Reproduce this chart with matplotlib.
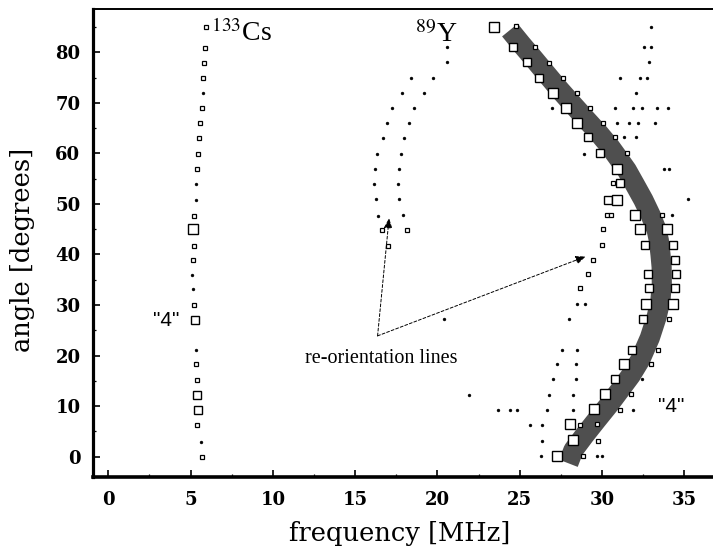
import matplotlib
matplotlib.use("Agg")
import matplotlib.pyplot as plt
import numpy as np

# ---------------- data ----------------
# 133Cs resonance positions: frequency [MHz], angle [deg], intensity class (0 dot .. 3 large)
cs_freq = [5.95, 5.88, 5.82, 5.78, 5.74, 5.67, 5.57, 5.51, 5.47, 5.37, 5.33, 5.33, 5.23, 5.17,
           5.23, 5.17, 5.11, 5.17, 5.21, 5.27, 5.31, 5.33, 5.37, 5.41, 5.47, 5.41, 5.61, 5.67]
cs_angle = [85.0, 80.9, 77.9, 75.0, 71.9, 69.0, 66.0, 63.0, 59.8, 56.9, 53.9, 50.8, 47.7, 45.0,
            41.7, 38.9, 35.9, 33.2, 30.1, 27.0, 21.1, 18.3, 15.2, 12.2, 9.2, 6.2, 3.0, 0.0]
cs_int = [1, 1, 1, 1, 0, 1, 1, 1, 1, 1, 0, 0, 1, 3,
          1, 1, 0, 0, 1, 2, 0, 1, 1, 2, 2, 1, 0, 1]

# 89Y resonance positions
y_freq = [20.56, 20.60, 18.39, 19.71, 17.83, 19.18, 17.26, 18.58, 16.92, 18.29, 16.67, 17.99,
          16.35, 17.76, 16.21, 17.66, 16.17, 17.62, 16.25, 17.68, 16.41, 17.93, 16.65, 18.13,
          17.01, 20.41, 21.94]
y_angle = [81.1, 78.0, 75.0, 75.0, 71.9, 71.9, 69.0, 69.0, 66.0, 66.0, 63.1, 63.1,
           59.9, 59.9, 56.9, 56.9, 53.9, 53.9, 50.9, 50.9, 47.7, 47.8, 44.8, 44.8,
           41.7, 27.2, 12.2]
y_int = [0, 0, 0, 0, 0, 0, 0, 0, 0, 0, 0, 0,
         0, 0, 0, 0, 0, 0, 0, 0, 0, 0, 1, 1,
         1, 0, 0]

# broad central line (band) centre
band_freq = [24.4, 25.1, 25.83, 26.65, 27.45, 28.27, 29.07, 29.8, 30.49, 31.0, 31.5, 32.0,
             32.51, 32.95, 33.32, 33.45, 33.55, 33.62, 33.63, 33.55, 33.32, 32.9, 32.31,
             31.75, 31.09, 30.4, 29.68, 28.95, 28.26, 27.95]
band_angle = [84.4, 81.6, 78.8, 75.6, 72.5, 69.5, 66.6, 64.0, 61.3, 59.0, 56.7, 53.8,
              50.8, 47.8, 44.8, 42.8, 40.0, 37.5, 34.3, 31.0, 27.7, 23.5, 19.1,
              16.1, 13.2, 10.2, 7.3, 4.3, 1.3, -1.3]

# satellite resonances around the band
sat_freq = [23.44, 24.77, 24.61, 25.93, 25.42, 26.80, 26.19, 27.61, 27.04, 28.46, 27.81, 29.27,
            28.50, 30.08, 29.17, 30.79, 29.88, 31.50, 30.89, 30.69, 31.09, 30.38, 30.89, 30.28,
            30.53, 32.00, 33.63, 30.04, 32.31, 33.97, 29.98, 32.61, 34.30,
            29.47, 29.17, 28.66, 34.44, 32.81, 34.50, 32.87, 34.44, 32.67, 34.33, 32.47, 34.09,
            31.80, 33.42, 31.34, 32.96, 30.79, 30.18, 31.74, 29.51, 31.09, 28.05, 29.71, 28.66,
            28.26, 29.77, 27.28, 28.83,
            32.96, 32.55, 32.96, 32.86, 31.09, 32.31, 32.75, 32.07, 26.96, 30.79, 31.86, 32.45,
            33.32, 34.03, 30.89, 31.64, 32.20, 33.22, 31.35, 32.04, 28.92, 33.79, 34.09, 35.24,
            34.23, 28.46, 28.97, 28.01, 27.55, 28.50, 27.25, 28.42, 27.00, 28.40, 26.78, 28.26,
            23.70, 24.41, 24.85, 26.64, 28.26, 25.62, 26.37, 26.37, 26.27, 29.68, 29.98, 31.90,
            32.41]
sat_angle = [85.0, 85.2, 81.1, 81.1, 78.1, 77.9, 75.0, 75.0, 71.9, 71.9, 69.0, 69.0,
             66.0, 66.0, 63.2, 63.2, 60.0, 60.0, 57.0, 54.1, 54.1, 50.8, 50.8, 47.8,
             47.8, 47.8, 47.8, 45.0, 45.0, 45.0, 41.9, 41.9, 41.9,
             39.0, 36.1, 33.3, 39.0, 36.1, 36.1, 33.3, 33.3, 30.3, 30.3, 27.3, 27.3,
             21.2, 21.2, 18.3, 18.3, 15.4, 12.4, 12.4, 9.4, 9.2, 6.5, 6.5, 6.3,
             3.3, 3.2, 0.1, 0.1,
             85.0, 81.1, 81.1, 78.0, 75.0, 75.0, 75.0, 72.0, 69.0, 69.0, 69.0, 69.0,
             69.0, 69.0, 66.0, 66.0, 66.0, 66.0, 63.2, 63.2, 59.9, 57.0, 57.0, 50.9,
             47.8, 30.3, 30.3, 27.2, 21.2, 21.2, 18.3, 18.3, 15.4, 15.4, 12.2, 12.2,
             9.2, 9.2, 9.2, 9.2, 9.2, 6.3, 6.3, 3.2, 0.1, 0.1, 0.1, 9.2,
             15.4]
sat_int = [3, 1, 2, 1, 2, 1, 2, 1, 3, 1, 3, 1,
           3, 1, 2, 1, 2, 1, 3, 1, 2, 2, 3, 1,
           1, 3, 1, 1, 3, 3, 1, 2, 2,
           1, 1, 1, 2, 2, 2, 2, 2, 3, 3, 2, 1,
           2, 1, 3, 1, 2, 3, 1, 3, 1, 3, 1, 1,
           3, 1, 3, 1,
           0, 0, 0, 0, 0, 0, 0, 0, 0, 0, 0, 0,
           0, 0, 0, 0, 0, 0, 0, 0, 0, 0, 0, 0,
           0, 0, 0, 0, 0, 0, 0, 0, 0, 0, 0, 0,
           0, 0, 0, 0, 0, 0, 0, 0, 0, 0, 0, 0,
           0]

# annotation arrows (re-orientation lines)
arrow_origin = (16.36, 23.9)
arrow_tips = [(17.06, 47.2), (29.0, 39.6)]

x_ticks = [0, 5, 10, 15, 20, 25, 30, 35]
y_ticks = [0, 10, 20, 30, 40, 50, 60, 70, 80]

# ---------------- figure ----------------
plt.rcParams["mathtext.fontset"] = "stix"
fig = plt.figure(figsize=(7.13, 5.52), dpi=100)
ax = fig.add_axes([93 / 713, 1 - 477 / 552, (713 - 93) / 713, (477 - 9) / 552])
ax.set_xlim(-0.93, 36.74)
ax.set_ylim(-4.02, 88.57)

# band
ax.plot(band_freq, band_angle, color="#4f4f4f", lw=14.5, solid_capstyle="butt",
        solid_joinstyle="round", zorder=2)

size_map = {1: 3.4, 2: 5.5, 3: 7.6}


def draw_points(fx, ay, it):
    fx = np.asarray(fx); ay = np.asarray(ay); it = np.asarray(it)
    m = it == 0
    ax.plot(fx[m], ay[m], ls="none", marker="o", ms=2.1, mfc="black", mec="black",
            mew=0.3, zorder=4)
    for k, s in size_map.items():
        m = it == k
        ax.plot(fx[m], ay[m], ls="none", marker="s", ms=s, mfc="white", mec="black",
                mew=1.0 if k > 1 else 0.9, zorder=3)


draw_points(cs_freq, cs_angle, cs_int)
draw_points(y_freq, y_angle, y_int)
draw_points(sat_freq, sat_angle, sat_int)

# arrows
for tip in arrow_tips:
    ax.annotate("", xy=tip, xytext=arrow_origin,
                arrowprops=dict(arrowstyle="-|>,head_length=0.6,head_width=0.25",
                                linestyle=(0, (3, 2)), lw=0.7, color="black",
                                shrinkA=0, shrinkB=0),
                zorder=5)

# texts
ax.text(6.22, 82.2, r"$^{133}$Cs", fontsize=20, family="Liberation Serif",
        ha="left", va="baseline")
ax.text(18.62, 82.1, r"$^{89}$Y", fontsize=20, family="Liberation Serif",
        ha="left", va="baseline")
ax.text(3.49, 27.0, '"4"', fontsize=15, family="Liberation Sans", ha="center", va="center")
ax.text(34.19, 10.0, '"4"', fontsize=15, family="Liberation Sans", ha="center", va="center")
ax.text(16.61, 19.46, "re-orientation lines", fontsize=14.5, family="Liberation Serif",
        ha="center", va="center")

# axes styling
ax.set_xticks(x_ticks)
ax.set_yticks(y_ticks)
ax.set_xticks(np.arange(2.5, 37, 5), minor=True)
ax.set_yticks(np.arange(5, 88, 10), minor=True)
tick_font = dict(family="DejaVu Serif", weight="bold", size=13)
ax.set_xticklabels([str(v) for v in x_ticks], **tick_font)
ax.set_yticklabels([str(v) for v in y_ticks], **tick_font)
ax.tick_params(which="major", direction="in", length=5, width=1.2, pad=10)
ax.tick_params(axis="y", which="major", pad=9)
ax.tick_params(which="minor", direction="in", length=2.5, width=0.9)
ax.tick_params(top=False, right=False, which="both")

ax.spines["right"].set_visible(False)
ax.spines["left"].set_linewidth(2.3)
ax.spines["bottom"].set_linewidth(2.6)
ax.spines["top"].set_linewidth(1.4)

ax.set_xlabel("frequency [MHz]", family="DejaVu Serif", fontsize=18.5)
ax.set_ylabel("angle [degrees]", family="DejaVu Serif", fontsize=18.5)
ax.xaxis.set_label_coords(0.495, -0.094)
ax.yaxis.set_label_coords(-0.094, 0.485)

fig.savefig("out.png", dpi=100)
